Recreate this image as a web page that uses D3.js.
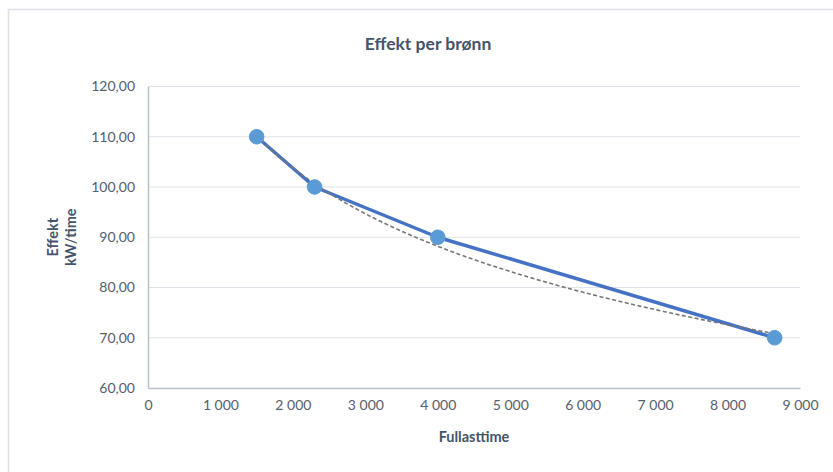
<!DOCTYPE html>
<html><head><meta charset="utf-8">
<script src="https://cdn.jsdelivr.net/npm/d3@7"></script>
<style>
html,body{margin:0;padding:0;background:#fff;}
svg{display:block;font-family:Lato,"Open Sans",sans-serif;}
</style></head>
<body><svg id="c" width="833" height="472"></svg>
<script>
const title = "Effekt per brønn";
const xTitle = "Fullasttime";
const yTitleLines = ["Effekt","kW/time"];
const xValues = [1500, 2300, 4000, 8650];
const yValues = [110, 100, 90, 70];
const xTicks = [0,1000,2000,3000,4000,5000,6000,7000,8000,9000];
const yTicks = [60,70,80,90,100,110,120];

const svg = d3.select("#c");
const W = 833, H = 472;
const m = {left:148, right:33, top:86.5, bottom:84};
const tickColor = "#555d6b", titleColor = "#44546a";

// outer chart border
svg.append("rect").attr("x",8.5).attr("y",9.5).attr("width",W).attr("height",H)
  .attr("fill","#fff").attr("stroke","#dde0e6").attr("stroke-width",1.5);

const x = d3.scaleLinear().domain([0,9000]).range([m.left, W-m.right]);
const y = d3.scaleLinear().domain([60,120]).range([H-m.bottom, m.top]);

const fmtX = v => d3.format(",")(v).replace(/,/g," ");
const fmtY = v => d3.format(".2f")(v).replace(".",",");

// gridlines
svg.append("g").selectAll("line").data(yTicks.filter(t=>t>60)).join("line")
  .attr("x1",x(0)).attr("x2",x(9000)).attr("y1",d=>y(d)).attr("y2",d=>y(d))
  .attr("stroke","#dfe2e8").attr("stroke-width",1);

// axes
const yAxis = svg.append("g").attr("transform",`translate(${x(0)},0)`)
  .call(d3.axisLeft(y).tickValues(yTicks).tickFormat(fmtY).tickSize(0).tickPadding(13));
const xAxis = svg.append("g").attr("transform",`translate(0,${y(60)})`)
  .call(d3.axisBottom(x).tickValues(xTicks).tickFormat(fmtX).tickSize(0).tickPadding(12));
[yAxis,xAxis].forEach(g=>{
  g.select(".domain").attr("stroke","#b8bfcc").attr("stroke-width",1.5);
  g.selectAll("text").attr("fill",tickColor).attr("font-size","14px").attr("font-family","Lato,'Open Sans',sans-serif");
});

// trendline (logarithmic least-squares fit of the data)
const lx = xValues.map(Math.log);
const mx = d3.mean(lx), my = d3.mean(yValues);
const b = d3.sum(lx.map((v,i)=>(v-mx)*(yValues[i]-my))) / d3.sum(lx.map(v=>(v-mx)**2));
const a = my - b*mx;
const trend = d3.range(0,101).map(i=>{
  const xv = xValues[0] + (xValues[xValues.length-1]-xValues[0])*i/100;
  return [xv, a + b*Math.log(xv)];
});

// series line
svg.append("path").datum(xValues.map((v,i)=>[v,yValues[i]]))
  .attr("fill","none").attr("stroke","#4472c4").attr("stroke-width",3.5)
  .attr("stroke-linejoin","round").attr("stroke-linecap","round")
  .attr("d",d3.line().x(d=>x(d[0])).y(d=>y(d[1])));

svg.append("path").datum(trend)
  .attr("fill","none").attr("stroke","#767676").attr("stroke-width",1.6)
  .attr("stroke-dasharray","4,2.5")
  .attr("d",d3.line().x(d=>x(d[0])).y(d=>y(d[1])));

// markers
svg.append("g").selectAll("circle").data(xValues.map((v,i)=>[v,yValues[i]])).join("circle")
  .attr("cx",d=>x(d[0])).attr("cy",d=>y(d[1])).attr("r",7.3)
  .attr("fill","#5b9bd5").attr("stroke","#5b9bd5").attr("stroke-width",1);

// title
svg.append("text").attr("x",428).attr("y",50).attr("text-anchor","middle")
  .attr("font-size","17.5px").attr("font-weight","bold").attr("fill",titleColor).text(title);

// x title
svg.append("text").attr("x",x(4500)).attr("y",442).attr("text-anchor","middle")
  .attr("font-size","14.5px").attr("font-weight","bold").attr("fill",titleColor).text(xTitle);

// y title
const yt = svg.append("text").attr("transform",`translate(58,${y(90)}) rotate(-90)`)
  .attr("text-anchor","middle").attr("font-size","14.5px").attr("font-weight","bold").attr("fill",titleColor);
yTitleLines.forEach((t,i)=>yt.append("tspan").attr("x",0).attr("dy",i===0?"0":"18").text(t));
</script></body></html>
